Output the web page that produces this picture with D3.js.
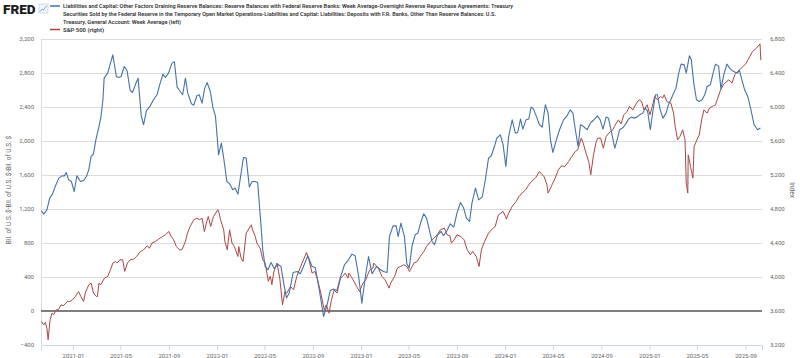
<!DOCTYPE html>
<html><head><meta charset="utf-8">
<script src="https://cdn.jsdelivr.net/npm/d3@7"></script>
<style>
body{margin:0;background:#fff;}
svg{display:block;font-family:Roboto,"Open Sans",Arial,sans-serif;}
</style>
</head><body>
<svg id="chart" width="800" height="358"></svg>
<script>
// ---------------- DATA ----------------
const blueDates = ["2020-10-13","2020-10-19","2020-10-27","2020-11-03","2020-11-10","2020-11-17","2020-11-26","2020-12-04","2020-12-10","2020-12-15","2020-12-21","2020-12-28","2021-01-04","2021-01-11","2021-01-20","2021-01-28","2021-02-04","2021-02-10","2021-02-16","2021-02-22","2021-02-28","2021-03-07","2021-03-13","2021-03-18","2021-03-21","2021-03-30","2021-04-06","2021-04-12","2021-04-21","2021-04-27","2021-05-03","2021-05-11","2021-05-18","2021-05-26","2021-06-01","2021-06-08","2021-06-15","2021-06-23","2021-06-29","2021-07-06","2021-07-16","2021-07-24","2021-08-02","2021-08-10","2021-08-17","2021-08-23","2021-08-31","2021-09-09","2021-09-15","2021-09-22","2021-09-28","2021-10-06","2021-10-13","2021-10-19","2021-10-28","2021-11-03","2021-11-11","2021-11-17","2021-11-24","2021-12-01","2021-12-07","2021-12-15","2021-12-22","2021-12-28","2022-01-05","2022-01-12","2022-01-18","2022-01-26","2022-02-02","2022-02-10","2022-02-16","2022-02-23","2022-03-03","2022-03-09","2022-03-16","2022-03-24","2022-03-31","2022-04-08","2022-04-14","2022-04-22","2022-04-27","2022-05-03","2022-05-10","2022-05-18","2022-05-26","2022-06-04","2022-06-12","2022-06-19","2022-06-26","2022-07-03","2022-07-13","2022-07-23","2022-07-31","2022-08-08","2022-08-19","2022-08-30","2022-09-07","2022-09-15","2022-09-22","2022-09-28","2022-10-07","2022-10-15","2022-10-23","2022-11-01","2022-11-09","2022-11-20","2022-11-30","2022-12-09","2022-12-17","2022-12-26","2023-01-03","2023-01-12","2023-01-20","2023-01-29","2023-02-09","2023-02-19","2023-02-27","2023-03-08","2023-03-14","2023-03-23","2023-03-31","2023-04-05","2023-04-12","2023-04-21","2023-04-27","2023-05-03","2023-05-10","2023-05-18","2023-05-25","2023-06-02","2023-06-09","2023-06-16","2023-06-23","2023-06-30","2023-07-06","2023-07-14","2023-07-23","2023-07-29","2023-08-07","2023-08-15","2023-08-24","2023-09-01","2023-09-10","2023-09-18","2023-09-25","2023-10-03","2023-10-09","2023-10-18","2023-10-26","2023-11-04","2023-11-12","2023-11-20","2023-11-27","2023-12-05","2023-12-11","2023-12-20","2023-12-27","2024-01-03","2024-01-10","2024-01-19","2024-01-27","2024-02-02","2024-02-09","2024-02-15","2024-02-23","2024-03-01","2024-03-07","2024-03-13","2024-03-22","2024-03-28","2024-04-04","2024-04-12","2024-04-19","2024-04-25","2024-05-01","2024-05-10","2024-05-18","2024-05-28","2024-06-06","2024-06-14","2024-06-21","2024-06-27","2024-07-04","2024-07-10","2024-07-18","2024-07-27","2024-08-04","2024-08-11","2024-08-17","2024-08-22","2024-08-29","2024-09-05","2024-09-13","2024-09-19","2024-09-28","2024-10-05","2024-10-11","2024-10-17","2024-10-26","2024-11-03","2024-11-09","2024-11-16","2024-11-22","2024-11-30","2024-12-07","2024-12-15","2024-12-21","2024-12-27","2025-01-03","2025-01-09","2025-01-16","2025-01-21","2025-01-28","2025-02-04","2025-02-12","2025-02-18","2025-02-24","2025-03-03","2025-03-09","2025-03-16","2025-03-22","2025-03-30","2025-04-04","2025-04-12","2025-04-17","2025-04-23","2025-04-30","2025-05-07","2025-05-14","2025-05-21","2025-05-27","2025-06-04","2025-06-10","2025-06-17","2025-06-25","2025-07-01","2025-07-08","2025-07-16","2025-07-25","2025-08-02","2025-08-11","2025-08-17","2025-08-23","2025-08-30","2025-09-07","2025-09-15","2025-09-23","2025-10-02","2025-10-09"];
const blueValues = [1180,1140,1190,1328,1375,1465,1563,1590,1590,1630,1543,1524,1406,1590,1524,1535,1582,1661,1818,1849,2014,2152,2288,2485,2740,2799,2916,3014,2759,2747,2759,2876,2829,2594,2571,2661,2740,2296,2191,2355,2414,2485,2544,2681,2787,2747,2799,2916,2932,2634,2594,2544,2740,2563,2438,2422,2532,2544,2446,2622,2688,2582,2387,2296,1838,1975,1799,1524,1496,1426,1446,1375,1622,1806,1799,1458,1524,1524,1512,1034,720,524,485,571,500,550,524,328,152,211,453,465,438,524,649,524,512,308,112,-65,73,241,258,241,387,544,602,669,649,406,93,406,641,438,524,485,465,453,876,1002,1002,876,1034,876,555,505,759,896,916,1053,1144,1093,955,818,779,896,935,885,947,1026,987,1152,1276,1211,1093,1053,1269,1446,1308,1340,1544,1799,1826,1935,2034,2073,1955,1700,2053,2249,2093,2100,2258,2140,2249,2258,2399,2375,2269,2191,2164,2426,2328,2014,1865,2014,2132,2249,2296,2367,2328,2132,1935,2191,2170,2132,2210,2241,2269,2296,2249,2140,2281,2269,2073,1916,2014,2132,2159,2210,2258,2281,2269,2281,2308,2328,2387,2355,2132,2335,2544,2544,2367,2269,2328,2426,2485,2563,2622,2799,2904,2896,2799,3002,2955,2681,2485,2465,2485,2544,2642,2661,2779,2904,2884,2610,2779,2904,2845,2818,2799,2829,2720,2602,2524,2367,2191,2132,2152];

const spxDates = ["2020-10-13","2020-10-19","2020-10-23","2020-10-27","2020-10-30","2020-11-04","2020-11-09","2020-11-13","2020-11-17","2020-11-20","2020-11-25","2020-12-02","2020-12-07","2020-12-14","2020-12-18","2020-12-24","2020-12-31","2021-01-07","2021-01-15","2021-01-21","2021-01-28","2021-02-01","2021-02-10","2021-02-16","2021-02-22","2021-03-01","2021-03-04","2021-03-08","2021-03-12","2021-03-22","2021-03-30","2021-04-06","2021-04-12","2021-04-19","2021-04-23","2021-04-30","2021-05-07","2021-05-12","2021-05-19","2021-05-26","2021-06-04","2021-06-11","2021-06-21","2021-06-29","2021-07-08","2021-07-14","2021-07-20","2021-07-29","2021-08-06","2021-08-16","2021-08-23","2021-09-01","2021-09-07","2021-09-13","2021-09-20","2021-09-28","2021-10-04","2021-10-13","2021-10-18","2021-10-25","2021-11-03","2021-11-11","2021-11-18","2021-11-24","2021-11-30","2021-12-06","2021-12-10","2021-12-16","2021-12-23","2022-01-03","2022-01-06","2022-01-10","2022-01-18","2022-01-21","2022-01-27","2022-02-02","2022-02-08","2022-02-14","2022-02-23","2022-02-25","2022-03-03","2022-03-08","2022-03-16","2022-03-29","2022-04-01","2022-04-08","2022-04-12","2022-04-21","2022-04-27","2022-05-03","2022-05-11","2022-05-16","2022-05-20","2022-05-25","2022-06-02","2022-06-09","2022-06-16","2022-06-22","2022-06-27","2022-07-06","2022-07-14","2022-07-22","2022-08-01","2022-08-08","2022-08-16","2022-08-22","2022-08-30","2022-09-06","2022-09-13","2022-09-21","2022-09-27","2022-09-30","2022-10-05","2022-10-12","2022-10-18","2022-10-25","2022-11-01","2022-11-10","2022-11-15","2022-11-22","2022-11-29","2022-12-01","2022-12-12","2022-12-21","2022-12-28","2023-01-06","2023-01-13","2023-01-23","2023-01-31","2023-02-02","2023-02-14","2023-02-23","2023-03-03","2023-03-13","2023-03-17","2023-03-27","2023-04-03","2023-04-11","2023-04-19","2023-04-27","2023-05-04","2023-05-15","2023-05-23","2023-05-31","2023-06-09","2023-06-16","2023-06-26","2023-07-05","2023-07-13","2023-07-21","2023-07-31","2023-08-07","2023-08-14","2023-08-18","2023-08-25","2023-09-01","2023-09-11","2023-09-19","2023-09-27","2023-10-05","2023-10-11","2023-10-20","2023-10-27","2023-11-02","2023-11-10","2023-11-20","2023-11-29","2023-12-07","2023-12-15","2023-12-27","2024-01-02","2024-01-04","2024-01-10","2024-01-19","2024-01-29","2024-02-05","2024-02-13","2024-02-22","2024-03-01","2024-03-08","2024-03-18","2024-03-28","2024-04-04","2024-04-09","2024-04-16","2024-04-19","2024-04-29","2024-05-07","2024-05-15","2024-05-23","2024-05-31","2024-06-10","2024-06-18","2024-06-27","2024-07-03","2024-07-12","2024-07-17","2024-07-24","2024-07-31","2024-08-05","2024-08-12","2024-08-19","2024-08-23","2024-08-30","2024-09-06","2024-09-13","2024-09-20","2024-09-30","2024-10-04","2024-10-14","2024-10-21","2024-10-28","2024-11-05","2024-11-11","2024-11-20","2024-11-29","2024-12-06","2024-12-12","2024-12-18","2024-12-26","2025-01-02","2025-01-08","2025-01-14","2025-01-21","2025-01-29","2025-02-03","2025-02-07","2025-02-14","2025-02-24","2025-03-03","2025-03-07","2025-03-13","2025-03-19","2025-03-26","2025-04-01","2025-04-04","2025-04-08","2025-04-09","2025-04-15","2025-04-21","2025-04-24","2025-05-01","2025-05-07","2025-05-13","2025-05-19","2025-05-27","2025-06-02","2025-06-09","2025-06-17","2025-06-23","2025-06-30","2025-07-07","2025-07-11","2025-07-21","2025-07-29","2025-08-05","2025-08-12","2025-08-19","2025-08-26","2025-09-03","2025-09-12","2025-09-19","2025-09-29","2025-10-08","2025-10-10"];
const spxValues = [3476,3438,3465,3399,3262,3496,3575,3555,3594,3614,3614,3673,3661,3693,3712,3712,3732,3771,3829,3771,3712,3810,3908,3928,3810,3771,3771,3928,3908,3987,4006,4085,4164,4182,4164,4202,4202,4065,4164,4202,4210,4241,4300,4320,4367,4340,4399,4418,4446,4476,4496,4535,4476,4438,4359,4320,4320,4418,4516,4594,4673,4693,4673,4693,4535,4653,4712,4594,4712,4791,4759,4673,4555,4418,4320,4555,4399,4359,4241,4359,4222,4182,4516,4614,4555,4476,4399,4330,4202,4164,3950,4010,3910,4060,4164,3987,3673,3829,3810,3888,3849,4006,4124,4202,4288,4202,4046,4065,3967,3810,3673,3614,3673,3575,3732,3849,3810,3987,4006,4046,3987,4046,3967,3888,3829,3928,3967,4085,4105,4164,4105,4006,3967,3869,3928,4006,4105,4124,4144,4124,4065,4164,4182,4241,4300,4359,4418,4457,4496,4555,4575,4496,4485,4399,4438,4496,4476,4438,4320,4261,4300,4241,4124,4320,4418,4516,4563,4594,4731,4771,4712,4681,4751,4830,4888,4947,4987,5026,5085,5124,5164,5241,5202,5182,5085,4987,5085,5164,5261,5308,5300,5359,5418,5476,5496,5634,5575,5457,5359,5202,5437,5594,5634,5634,5516,5653,5693,5732,5771,5849,5802,5908,5947,6006,5967,6046,6085,6065,5967,6026,5908,6006,6124,6085,6124,6105,6144,6065,6046,5928,5771,5614,5653,5732,5614,5105,4987,5437,5300,5164,5535,5614,5673,5849,5967,5928,5987,6006,6026,6105,6202,6261,6281,6320,6281,6379,6418,6445,6476,6516,6594,6653,6692,6743,6550];

const leftTicks = [-400,0,400,800,1200,1600,2000,2400,2800,3200];
const rightTicks = [3200,3600,4000,4400,4800,5200,5600,6000,6400,6800];
const xTickDates = ["2021-01-01","2021-05-01","2021-09-01","2022-01-01","2022-05-01","2022-09-01","2023-01-01","2023-05-01","2023-09-01","2024-01-01","2024-05-01","2024-09-01","2025-01-01","2025-05-01","2025-09-01"];
const xDomain = ["2020-10-12","2025-10-13"];
const legendLines = [
  "Liabilities and Capital: Other Factors Draining Reserve Balances: Reserve Balances with Federal Reserve Banks: Week Average-Overnight Reverse Repurchase Agreements: Treasury",
  "Securities Sold by the Federal Reserve in the Temporary Open Market Operations-Liabilities and Capital: Liabilities: Deposits with F.R. Banks, Other Than Reserve Balances: U.S.",
  "Treasury, General Account: Week Average (left)"
];
const legendSpx = "S&P 500 (right)";
const leftTitle = "Bil. of U.S. $-Bil. of U.S. $-Bil. of U.S. $";
const rightTitle = "Index";

// ---------------- CHART ----------------
const parse = d3.utcParse("%Y-%m-%d");
const fmtX = d3.utcFormat("%Y-%m");
const fmtY = d3.format(",");
const svg = d3.select("#chart");
const M = {left: 41, right: 762, top: 39, bottom: 345};
const BLUE = "#4572a7", RED = "#aa4643";

const x = d3.scaleUtc().domain(xDomain.map(parse)).range([M.left, M.right]);
const yL = d3.scaleLinear().domain([-400, 3200]).range([M.bottom, M.top]);
const yR = d3.scaleLinear().domain([3200, 6800]).range([M.bottom, M.top]);

// gridlines
svg.append("g").selectAll("line").data(leftTicks.filter(t => t !== 0 && t !== -400)).join("line")
  .attr("x1", M.left).attr("x2", M.right)
  .attr("y1", d => Math.round(yL(d)) + 0.5).attr("y2", d => Math.round(yL(d)) + 0.5)
  .attr("stroke", "#dcdcdc").attr("stroke-width", 1);

// left axis
const axL = svg.append("g").attr("transform", `translate(${M.left},0)`)
  .call(d3.axisLeft(yL).tickValues(leftTicks).tickFormat(fmtY).tickSize(0).tickPadding(7));
axL.select(".domain").attr("stroke", "#dcdcdc");
axL.selectAll("text").attr("fill", "#666").style("font-size", "6px").style("font-family", "Roboto");

// right axis
const axR = svg.append("g").attr("transform", `translate(${M.right},0)`)
  .call(d3.axisRight(yR).tickValues(rightTicks).tickFormat(fmtY).tickSize(0).tickPadding(8));
axR.select(".domain").remove();
axR.selectAll("text").attr("fill", "#666").style("font-size", "6px").style("font-family", "Roboto");

// bottom axis
const axB = svg.append("g").attr("transform", `translate(0,${M.bottom})`)
  .call(d3.axisBottom(x).tickValues(xTickDates.map(parse)).tickFormat(fmtX).tickSize(5).tickPadding(4));
axB.select(".domain").attr("stroke", "#ccd6eb");
axB.selectAll(".tick line").attr("stroke", "#ccd6eb");
axB.selectAll("text").attr("fill", "#666").style("font-size", "6px").style("font-family", "Roboto");

// zero line
svg.append("line").attr("x1", M.left).attr("x2", M.right)
  .attr("y1", yL(0)).attr("y2", yL(0)).attr("stroke", "#555").attr("stroke-width", 1.5);

// series
const blue = blueDates.map((d, i) => ({date: parse(d), v: blueValues[i]}));
const spx = spxDates.map((d, i) => ({date: parse(d), v: spxValues[i]}));

svg.append("path").datum(spx)
  .attr("fill", "none").attr("stroke", RED).attr("stroke-width", 1).attr("stroke-linejoin", "round")
  .attr("d", d3.line().x(d => x(d.date)).y(d => yR(d.v)));
svg.append("path").datum(blue)
  .attr("fill", "none").attr("stroke", BLUE).attr("stroke-width", 1.1).attr("stroke-linejoin", "round")
  .attr("d", d3.line().x(d => x(d.date)).y(d => yL(d.v)));

// axis titles
svg.append("text").attr("transform", `translate(11,190) rotate(-90)`)
  .attr("text-anchor", "middle").attr("fill", "#666").style("font-size", "6.5px").text(leftTitle);
svg.append("text").attr("transform", `translate(790,190) rotate(90)`)
  .attr("text-anchor", "middle").attr("fill", "#666").style("font-size", "6.5px").text(rightTitle);

// FRED logo
svg.append("text").attr("x", 3).attr("y", 14).attr("fill", "#1b1b1b")
  .style("font-size", "13.5px").style("font-weight", "900").style("font-family", "Roboto").text("FRED");
const icon = svg.append("g").attr("transform", "translate(39,4)");
icon.append("rect").attr("width", 9).attr("height", 9).attr("fill", "#f3f6fb").attr("stroke", "#b9c7dc").attr("stroke-width", 0.6);
icon.append("path").attr("d", "M1,7.5 L3,5 L4.5,6 L6.5,3 L8,2").attr("fill", "none").attr("stroke", "#5b8fd0").attr("stroke-width", 0.8);

// legend
const lg = svg.append("g");
lg.append("line").attr("x1", 50).attr("x2", 60).attr("y1", 6).attr("y2", 6).attr("stroke", BLUE).attr("stroke-width", 1.5);
const widths = [450, 433, 118];
legendLines.forEach((t, i) => {
  lg.append("text").attr("x", 63).attr("y", 8.3 + i * 7.7).attr("fill", "#333")
    .style("font-size", "6.2px").style("font-weight", "600")
    .attr("textLength", widths[i]).attr("lengthAdjust", "spacingAndGlyphs").text(t);
});
lg.append("line").attr("x1", 50).attr("x2", 60).attr("y1", 29.5).attr("y2", 29.5).attr("stroke", RED).attr("stroke-width", 1.5);
lg.append("text").attr("x", 63).attr("y", 31.6).attr("fill", "#333")
  .style("font-size", "6.2px").style("font-weight", "600")
  .attr("textLength", 41).attr("lengthAdjust", "spacingAndGlyphs").text(legendSpx);
</script>
</body></html>
